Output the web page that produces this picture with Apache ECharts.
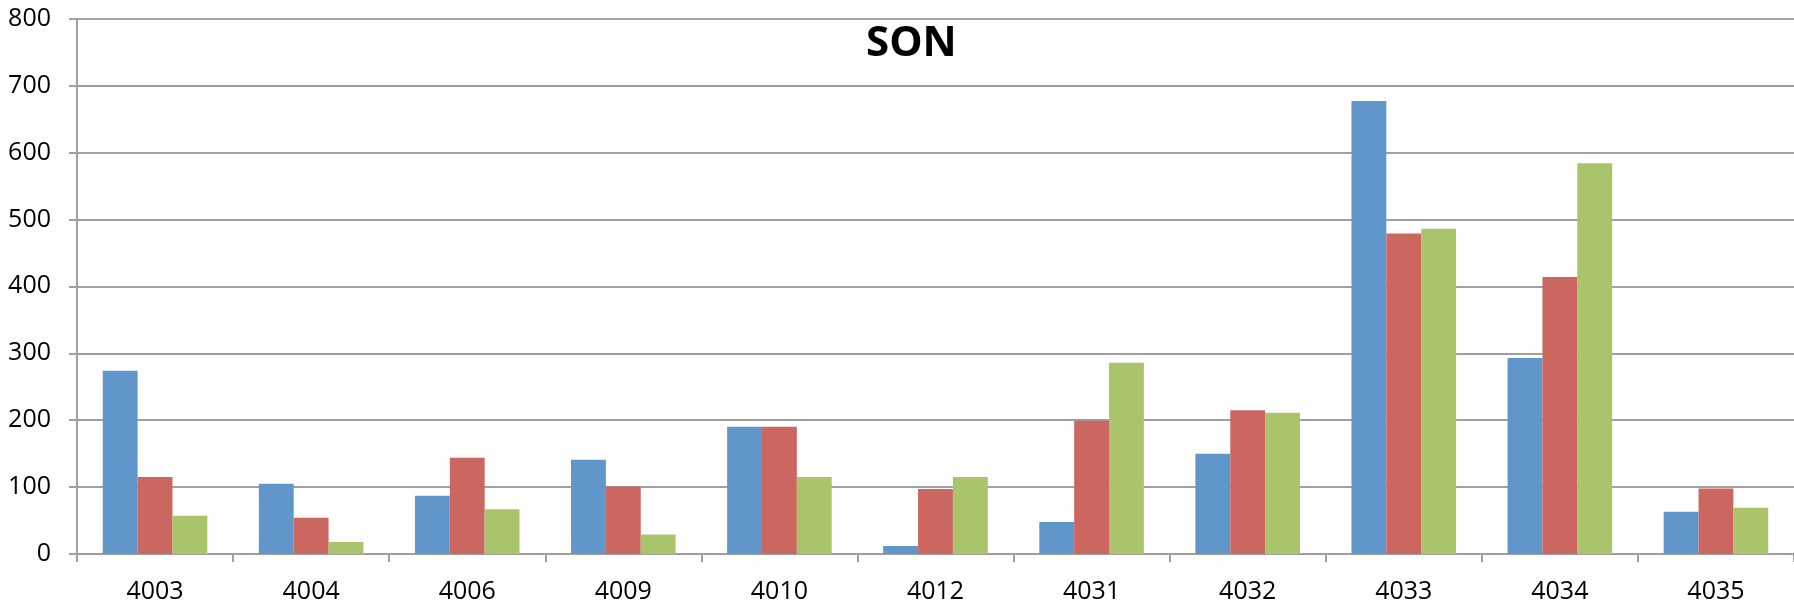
<!DOCTYPE html>
<html>
<head>
<meta charset="utf-8">
<script src="https://cdn.jsdelivr.net/npm/echarts@6/dist/echarts.min.js"></script>
<style>
  html, body { margin: 0; padding: 0; background: #fff; }
  #chart { width: 1794px; height: 604px; }
</style>
</head>
<body>
<div id="chart"></div>
<script>
// categories (station ids) and the three series
const categories = ['4003', '4004', '4006', '4009', '4010', '4012', '4031', '4032', '4033', '4034', '4035'];
const seriesA = [274, 105, 87, 141, 190, 12, 48, 150, 677, 293, 63];
const seriesB = [115, 54, 144, 101, 190, 97, 199, 215, 479, 414, 98];
const seriesC = [57, 18, 67, 29, 115, 115, 286, 211, 486, 584, 69];
const yTicks = { min: 0, max: 800, interval: 100 };

const colors = ['#6096c9', '#cc6661', '#aac46c'];
const gridGray = '#a0a0a0';
const font = '"Open Sans", "Liberation Sans", sans-serif';

const myChart = echarts.init(document.getElementById('chart'));

const option = {
  animation: false,
  color: colors,
  title: {
    text: 'SON',
    left: 861,
    top: 18,
    textStyle: { fontFamily: font, fontSize: 42, fontWeight: 'bold', color: '#000' }
  },
  grid: { left: 77, right: -3, top: 18.7, bottom: 49.3 },
  xAxis: {
    type: 'category',
    data: categories,
    boundaryGap: true,
    axisLine: { show: true, lineStyle: { color: gridGray, width: 2 } },
    axisTick: { show: true, length: 8, lineStyle: { color: gridGray, width: 2 } },
    axisLabel: { color: '#000', fontFamily: font, fontSize: 25, margin: 25 },
    splitLine: { show: false }
  },
  yAxis: {
    type: 'value',
    min: yTicks.min,
    max: yTicks.max,
    interval: yTicks.interval,
    axisLine: { show: true, lineStyle: { color: gridGray, width: 2 } },
    axisTick: { show: true, length: 8, lineStyle: { color: gridGray, width: 2 } },
    axisLabel: { color: '#000', fontFamily: font, fontSize: 25, margin: 26 },
    splitLine: { show: true, lineStyle: { color: gridGray, width: 2 } }
  },
  series: [
    { type: 'bar', data: seriesA, barGap: '0%', barCategoryGap: '33%' },
    { type: 'bar', data: seriesB, barGap: '0%', barCategoryGap: '33%' },
    { type: 'bar', data: seriesC, barGap: '0%', barCategoryGap: '33%' }
  ]
};

myChart.setOption(option);
</script>
</body>
</html>
